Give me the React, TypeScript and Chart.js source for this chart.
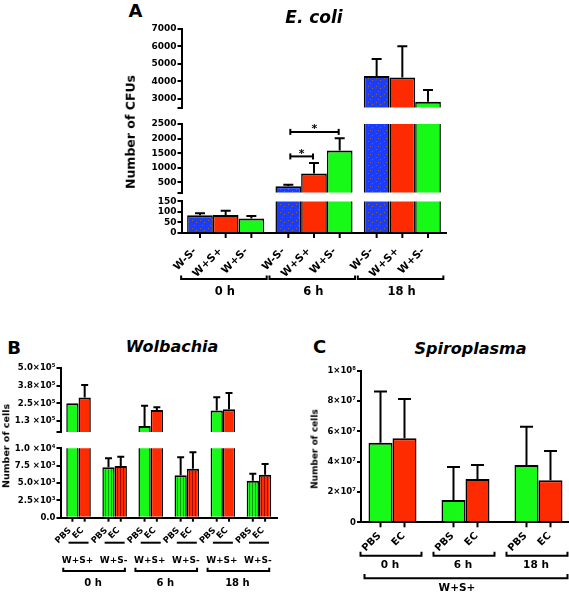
import React, { useEffect, useRef } from 'react';
import { Chart, registerables } from 'chart.js';
Chart.register(...registerables);

const FONT = '"DejaVu Sans", "Liberation Sans", Arial, sans-serif';
const BLUE = '#1b3cfb';
const RED = '#ff2b00';
const GREEN = '#17fa17';

// ---------- Panel A: E. coli ----------
const aTimes = ['0 h', '6 h', '18 h'];
const aStrains = ['W-S-', 'W+S+', 'W+S-'];
const aWmSm = [84, 368, 4313];
const aWmSmErr = [10, 52, 973];
const aWpSp = [86, 808, 4227];
const aWpSpErr = [20, 354, 1783];
const aWpSm = [69, 1593, 2838];
const aWpSmErr = [12, 417, 665];
const aSigGroup = [1, 1];
const aSigFrom = [0, 0];
const aSigTo = [2, 1];
const aSigAt = [2230, 1390];
const aSigText = ['*', '*'];
const aTopTicks = [2500, 3000, 4000, 5000, 6000, 7000];
const aTopTickLabels = ['', '3000', '4000', '5000', '6000', '7000'];
const aMidTicks = [150, 500, 1000, 1500, 2000, 2500];
const aMidTickLabels = ['', '500', '1000', '1500', '2000', '2500'];
const aLowTicks = [0, 50, 100, 150];
const aLowTickLabels = ['0', '50', '100', '150'];

// ---------- Panel B: Wolbachia ----------
const bSubsets = ['W+S+', 'W+S-', 'W+S+', 'W+S-', 'W+S+', 'W+S-'];
const bTimes = ['0 h', '6 h', '18 h'];
const bTreat = ['PBS', 'EC'];
const bPBS = [251000, 7260, 92000, 6110, 200000, 5330];
const bPBSErr = [null, 1300, 141000, 2590, 93000, 1010];
const bEC = [291000, 7450, 203000, 7060, 209000, 6200];
const bECErr = [87000, 1340, 20000, 2360, 113000, 1540];
const bTopTicks = [50000, 125000, 250000, 375000, 500000];
const bTopTickLabels = ['', '1.3 ×10⁵', '2.5×10⁵', '3.8×10⁵', '5.0×10⁵'];
const bLowTicks = [0, 2500, 5000, 7500, 10000];
const bLowTickLabels = ['0.0', '2.5×10³', '5.0×10³', '7.5 ×10³', '1.0 ×10⁴'];

// ---------- Panel C: Spiroplasma ----------
const cTimes = ['0 h', '6 h', '18 h'];
const cTreat = ['PBS', 'EC'];
const cSubset = 'W+S+';
const cPBS = [5.25e7, 1.47e7, 3.78e7];
const cPBSErr = [3.37e7, 2.18e7, 2.53e7];
const cEC = [5.54e7, 2.86e7, 2.77e7];
const cECErr = [2.6e7, 0.92e7, 1.93e7];
const cTicks = [0, 2e7, 4e7, 6e7, 8e7, 1e8];
const cTickLabels = ['0', '2×10⁷', '4×10⁷', '6×10⁷', '8×10⁷', '1×10⁸'];

// ---------- helpers ----------
function geom(l: number, t: number, r: number, b: number, axisW: number, padT: number, padB: number, padR: number) {
  const cl = Math.floor(l - axisW);
  const ct = Math.floor(t - padT);
  const cw = Math.ceil(r + padR) - cl;
  const ch = Math.ceil(b + padB) - ct;
  return { cl, ct, cw, ch, axisW: l - cl, padTop: t - ct, padBottom: ct + ch - b, padRight: cl + cw - r };
}
type G = ReturnType<typeof geom>;

function yScale(g: G, min: number, max: number, ticks: number[], labels: string[], size: number) {
  return {
    type: 'linear', min, max, position: 'left', z: 1,
    afterFit: (s: any) => { s.width = g.axisW; },
    afterBuildTicks: (s: any) => { s.ticks = ticks.map((v) => ({ value: v })); },
    ticks: {
      callback: (_v: any, i: number) => labels[i], autoSkip: false, maxRotation: 0, minRotation: 0,
      padding: 1, color: '#000', font: { family: FONT, size, weight: 'bold' },
    },
    grid: { drawOnChartArea: false, drawTicks: true, tickLength: 4, color: '#000', lineWidth: 2 },
    border: { display: true, color: '#000', width: 2 },
  };
}

function xCat(show: boolean) {
  return {
    type: 'category', display: show, offset: true, z: 1,
    grid: { display: false }, ticks: { display: false },
    border: { display: true, color: '#000', width: 2 },
    afterFit: (s: any) => { s.height = 0; },
  };
}

function errorBars(vals: number[][], errs: (number | null)[][], cap: number) {
  return {
    id: 'errbars',
    afterDatasetsDraw(chart: any) {
      const { ctx, chartArea: a } = chart;
      const ys = chart.scales.y;
      ctx.save();
      ctx.beginPath();
      ctx.rect(a.left, a.top - 1, a.right - a.left, a.bottom - a.top + 1);
      ctx.clip();
      ctx.strokeStyle = '#000';
      ctx.lineWidth = 2;
      errs.forEach((arr, di) => {
        const meta = chart.getDatasetMeta(di);
        arr.forEach((e, j) => {
          if (e == null) return;
          const bar = meta.data[j];
          if (!bar) return;
          const y0 = ys.getPixelForValue(vals[di][j]);
          const y1 = ys.getPixelForValue(vals[di][j] + e);
          ctx.beginPath();
          ctx.moveTo(bar.x, y0);
          ctx.lineTo(bar.x, y1);
          ctx.moveTo(bar.x - cap / 2, y1);
          ctx.lineTo(bar.x + cap / 2, y1);
          ctx.stroke();
        });
      });
      ctx.restore();
    },
  };
}

function barConfig(g: G, o: any) {
  return {
    type: 'bar',
    data: { labels: o.labels, datasets: o.datasets },
    options: {
      responsive: false, maintainAspectRatio: false, animation: false, devicePixelRatio: 1, events: [],
      layout: { autoPadding: false, padding: { left: 0, top: g.padTop, right: g.padRight, bottom: g.padBottom } },
      plugins: { legend: { display: false }, tooltip: { enabled: false }, title: { display: false } },
      scales: { x: o.x, y: o.y },
    },
    plugins: [errorBars(o.vals, o.errs, o.cap), { id: 'extra', afterDraw: (c: any) => o.extra && o.extra(c) }],
  };
}

const BW = { top: 2, left: 1.5, right: 1.5, bottom: 0 };
function ds(data: any[], bg: any, cat: number) {
  return { data, backgroundColor: bg, borderColor: '#000', borderWidth: BW, borderSkipped: false, clip: 0, categoryPercentage: cat, barPercentage: 1 };
}

function rotLabel(ctx: any, s: string, x: number, y: number, size: number) {
  ctx.save();
  ctx.translate(x, y);
  ctx.rotate(-Math.PI / 4);
  ctx.font = `bold ${size}px ${FONT}`;
  ctx.textAlign = 'right';
  ctx.textBaseline = 'middle';
  ctx.fillStyle = '#000';
  ctx.fillText(s, 0, 0);
  ctx.restore();
}
function cText(ctx: any, s: string, x: number, y: number, size: number) {
  ctx.save();
  ctx.font = `bold ${size}px ${FONT}`;
  ctx.textAlign = 'center';
  ctx.textBaseline = 'middle';
  ctx.fillStyle = '#000';
  ctx.fillText(s, x, y);
  ctx.restore();
}
function seg(ctx: any, x1: number, y1: number, x2: number, y2: number) {
  ctx.beginPath(); ctx.moveTo(x1, y1); ctx.lineTo(x2, y2); ctx.stroke();
}
function bracketUp(ctx: any, x1: number, x2: number, y: number, h: number) {
  ctx.beginPath(); ctx.moveTo(x1, y - h); ctx.lineTo(x1, y); ctx.lineTo(x2, y); ctx.lineTo(x2, y - h); ctx.stroke();
}

type Pats = { blue: any; greenStripe: any; redStripe: any };

// geometry (chart areas)
const gATop = geom(181.5, 29, 446.5, 112, 46, 8, 2, 3);
const gAMid = geom(181.5, 124, 446.5, 196.5, 46, 8, 2, 3);
const gALow = geom(181.5, 201, 446.5, 233, 46, 6, 68, 3);
const gBTop = geom(60.5, 367.7, 277, 435.3, 60, 7, 2, 3);
const gBLow = geom(60.5, 448.3, 277, 517.7, 60, 6, 75, 3);
const gC = geom(361, 370.7, 569, 522.3, 45, 8, 71, 0);

const A_CAT = 0.8725;
const B_CAT = 0.68;
const C_CAT = 0.6575;

function aDatasets(p: Pats) {
  return [ds(aWmSm, p.blue, A_CAT), ds(aWpSp, RED, A_CAT), ds(aWpSm, GREEN, A_CAT)];
}
const aVals = [aWmSm, aWpSp, aWpSm];
const aErrs = [aWmSmErr, aWpSpErr, aWpSmErr];

function bDatasets(p: Pats) {
  return [
    ds(bPBS, bSubsets.map((s) => (s === 'W+S-' ? p.greenStripe : GREEN)), B_CAT),
    ds(bEC, bSubsets.map((s) => (s === 'W+S-' ? p.redStripe : RED)), B_CAT),
  ];
}
const bVals = [bPBS, bEC];
const bErrs = [bPBSErr, bECErr];

const SEGMENTS: { g: G; build: (p: Pats) => any }[] = [
  {
    g: gATop,
    build: (p) => barConfig(gATop, {
      labels: aTimes, datasets: aDatasets(p), vals: aVals, errs: aErrs, cap: 10,
      x: xCat(false), y: yScale(gATop, 2500, 7000, aTopTicks, aTopTickLabels, 9),
    }),
  },
  {
    g: gAMid,
    build: (p) => barConfig(gAMid, {
      labels: aTimes, datasets: aDatasets(p), vals: aVals, errs: aErrs, cap: 10,
      x: xCat(false), y: yScale(gAMid, 150, 2500, aMidTicks, aMidTickLabels, 9),
      extra: (chart: any) => {
        const ctx = chart.ctx;
        const ys = chart.scales.y;
        ctx.save();
        ctx.strokeStyle = '#000';
        ctx.lineWidth = 2;
        aSigFrom.forEach((f, k) => {
          const g = aSigGroup[k];
          const xa = chart.getDatasetMeta(f).data[g].x + 2;
          const xb = chart.getDatasetMeta(aSigTo[k]).data[g].x - 1;
          const y = ys.getPixelForValue(aSigAt[k]);
          seg(ctx, xa, y, xb, y);
          seg(ctx, xa, y - 3, xa, y + 3);
          seg(ctx, xb, y - 3, xb, y + 3);
          ctx.font = `bold 11px ${FONT}`;
          ctx.textAlign = 'center';
          ctx.textBaseline = 'alphabetic';
          ctx.fillStyle = '#000';
          ctx.fillText(aSigText[k], (xa + xb) / 2, y + 0.5);
        });
        ctx.restore();
      },
    }),
  },
  {
    g: gALow,
    build: (p) => barConfig(gALow, {
      labels: aTimes, datasets: aDatasets(p), vals: aVals, errs: aErrs, cap: 10,
      x: xCat(true), y: yScale(gALow, 0, 150, aLowTicks, aLowTickLabels, 9),
      extra: (chart: any) => {
        const ctx = chart.ctx;
        const ay = chart.chartArea.bottom;
        ctx.save();
        ctx.strokeStyle = '#000';
        ctx.lineWidth = 2;
        aTimes.forEach((t, j) => {
          const bars = aStrains.map((_s, di) => chart.getDatasetMeta(di).data[j]);
          bars.forEach((b: any, di: number) => {
            seg(ctx, b.x, ay, b.x, ay + 5);
            rotLabel(ctx, aStrains[di], b.x - 5, ay + 16.5, 10.5);
          });
          const x1 = bars[0].x - bars[0].width / 2 - 6;
          const x2 = bars[2].x + bars[2].width / 2 + 2.5;
          bracketUp(ctx, x1, x2, ay + 46, 3.5);
          cText(ctx, t, (x1 + x2) / 2 + 1, ay + 59, 11.5);
        });
        ctx.restore();
      },
    }),
  },
  {
    g: gBTop,
    build: (p) => barConfig(gBTop, {
      labels: bSubsets, datasets: bDatasets(p), vals: bVals, errs: bErrs, cap: 7,
      x: xCat(false), y: yScale(gBTop, 50000, 500000, bTopTicks, bTopTickLabels, 8.5),
    }),
  },
  {
    g: gBLow,
    build: (p) => barConfig(gBLow, {
      labels: bSubsets, datasets: bDatasets(p), vals: bVals, errs: bErrs, cap: 7,
      x: xCat(true), y: yScale(gBLow, 0, 10000, bLowTicks, bLowTickLabels, 8.5),
      extra: (chart: any) => {
        const ctx = chart.ctx;
        const ay = chart.chartArea.bottom;
        ctx.save();
        ctx.strokeStyle = '#000';
        ctx.lineWidth = 2;
        const barsOf = (k: number) => bTreat.map((_t, di) => chart.getDatasetMeta(di).data[k]);
        bSubsets.forEach((s, k) => {
          const bars = barsOf(k);
          bars.forEach((b: any, di: number) => {
            seg(ctx, b.x, ay, b.x, ay + 4);
            rotLabel(ctx, bTreat[di], b.x - 2.3, ay + 11.3, 8.5);
          });
          const gc = (bars[0].x + bars[1].x) / 2;
          seg(ctx, gc - 10, ay + 25, gc + 10, ay + 25);
          cText(ctx, s, gc - 1, ay + 43.3, 9);
        });
        bTimes.forEach((t, m) => {
          const first = barsOf(2 * m)[0];
          const last = barsOf(2 * m + 1)[1];
          const x1 = first.x - first.width / 2 - 3;
          const x2 = last.x + last.width / 2 - 2;
          bracketUp(ctx, x1, x2, ay + 53.3, 3.3);
          cText(ctx, t, (x1 + x2) / 2 - 1, ay + 65.3, 10);
        });
        ctx.restore();
      },
    }),
  },
  {
    g: gC,
    build: () => barConfig(gC, {
      labels: undefined,
      datasets: [
        ds(cPBS.map((v, i) => ({ x: i, y: v })), GREEN, C_CAT),
        ds(cEC.map((v, i) => ({ x: i, y: v })), RED, C_CAT),
      ],
      vals: [cPBS, cEC], errs: [cPBSErr, cECErr], cap: 13,
      x: {
        type: 'linear', min: -0.4315, max: 2.418, display: true, z: 1, offset: false,
        grid: { display: false, offset: false }, ticks: { display: false },
        border: { display: true, color: '#000', width: 2 },
        afterBuildTicks: (s: any) => { s.ticks = cTimes.map((_t, i) => ({ value: i })); },
        afterFit: (s: any) => { s.height = 0; },
      },
      y: yScale(gC, 0, 1e8, cTicks, cTickLabels, 8.5),
      extra: (chart: any) => {
        const ctx = chart.ctx;
        const ay = chart.chartArea.bottom;
        ctx.save();
        ctx.strokeStyle = '#000';
        ctx.lineWidth = 2;
        let bigL = 0;
        let bigR = 0;
        cTimes.forEach((t, j) => {
          const bars = cTreat.map((_n, di) => chart.getDatasetMeta(di).data[j]);
          bars.forEach((b: any, di: number) => {
            seg(ctx, b.x, ay, b.x, ay + 5);
            rotLabel(ctx, cTreat[di], b.x - 1, ay + 12, 10);
          });
          const gc = (bars[0].x + bars[1].x) / 2;
          const x1 = gc - 32;
          const x2 = gc + 29;
          bracketUp(ctx, x1, x2, ay + 33.4, 4);
          cText(ctx, t, (x1 + x2) / 2 - 1, ay + 42.7, 10.5);
          if (j === 0) bigL = x1 + 4;
          bigR = x2;
        });
        bracketUp(ctx, bigL, bigR, ay + 56, 4.3);
        cText(ctx, cSubset, (bigL + bigR) / 2 - 9, ay + 65.7, 10.5);
        ctx.restore();
      },
    }),
  },
];

const TEXTS = [
  { s: 'A', x: 135.5, y: 10.5, size: 18, italic: false, rot: false },
  { s: 'E. coli', x: 314, y: 17, size: 17, italic: true, rot: false },
  { s: 'Number of CFUs', x: 131, y: 132, size: 12.5, italic: false, rot: true },
  { s: 'B', x: 14, y: 348, size: 18, italic: false, rot: false },
  { s: 'Wolbachia', x: 172, y: 347, size: 16, italic: true, rot: false },
  { s: 'Number of cells', x: 5.5, y: 446, size: 9.5, italic: false, rot: true },
  { s: 'C', x: 319.5, y: 347, size: 18, italic: false, rot: false },
  { s: 'Spiroplasma', x: 470.5, y: 349, size: 16, italic: true, rot: false },
  { s: 'Number of cells', x: 315, y: 449, size: 9, italic: false, rot: true },
];

function makePatterns(): Pats {
  const mk = (w: number, h: number, draw: (x: CanvasRenderingContext2D) => void) => {
    const c = document.createElement('canvas');
    c.width = w;
    c.height = h;
    const x = c.getContext('2d')!;
    draw(x);
    return x.createPattern(c, 'repeat');
  };
  const blue = mk(8, 8, (x) => {
    x.fillStyle = BLUE;
    x.fillRect(0, 0, 8, 8);
    x.fillStyle = '#8a6a3c';
    x.fillRect(1, 1, 1, 1);
    x.fillRect(5, 3, 1, 1);
    x.fillRect(3, 6, 1, 1);
  });
  const greenStripe = mk(3, 4, (x) => {
    x.fillStyle = GREEN;
    x.fillRect(0, 0, 3, 4);
    x.fillStyle = '#0a9a0a';
    x.fillRect(0, 0, 1, 4);
  });
  const redStripe = mk(3, 4, (x) => {
    x.fillStyle = RED;
    x.fillRect(0, 0, 3, 4);
    x.fillStyle = '#a80a00';
    x.fillRect(0, 0, 1, 4);
  });
  return { blue, greenStripe, redStripe };
}

export default function App() {
  const refs = useRef<(HTMLCanvasElement | null)[]>([]);
  useEffect(() => {
    const pats = makePatterns();
    const charts = SEGMENTS.map((s, i) => new Chart(refs.current[i] as HTMLCanvasElement, s.build(pats) as any));
    return () => charts.forEach((c) => c.destroy());
  }, []);
  return (
    <div style={{ position: 'absolute', left: 0, top: 0, width: 569, height: 593, background: '#fff', overflow: 'hidden' }}>
      {SEGMENTS.map((s, i) => (
        <canvas
          key={i}
          ref={(el) => { refs.current[i] = el; }}
          width={s.g.cw}
          height={s.g.ch}
          style={{ position: 'absolute', left: s.g.cl, top: s.g.ct, width: s.g.cw, height: s.g.ch }}
        />
      ))}
      {TEXTS.map((t, i) => (
        <div
          key={'t' + i}
          style={{
            position: 'absolute', left: t.x, top: t.y,
            transform: `translate(-50%, -50%)${t.rot ? ' rotate(-90deg)' : ''}`,
            font: `${t.italic ? 'italic ' : ''}bold ${t.size}px ${FONT}`,
            whiteSpace: 'nowrap', lineHeight: 1, color: '#000',
          }}
        >
          {t.s}
        </div>
      ))}
    </div>
  );
}
